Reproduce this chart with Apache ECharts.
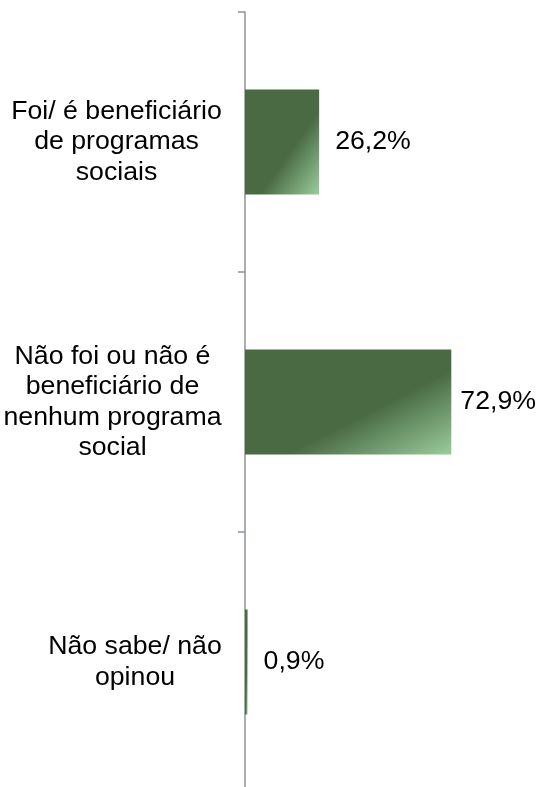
<!DOCTYPE html>
<html>
<head>
<meta charset="utf-8">
<style>
  html, body { margin: 0; padding: 0; background: #fff; }
  #chart { width: 536px; height: 787px; }
</style>
<script src="https://cdn.jsdelivr.net/npm/echarts@6/dist/echarts.min.js"></script>
</head>
<body>
<div id="chart"></div>
<script>
// data
const categories = [
  'Foi/ é beneficiário\nde programas\nsociais',
  'Não foi ou não é\nbeneficiário de\nnenhum programa\nsocial',
  'Não sabe/ não\nopinou',
];
const values = [26.2, 72.9, 0.9];

const fontFamily = "'Liberation Sans', Arial, sans-serif";
const fontSize = 26.7;
const darkGreen = '#4a6a44';
const lightGreen = '#9acd9c';
const barHeight = 105;

// each category label: lines centred inside a block that is right aligned to the axis
const measure = document.createElement('canvas').getContext('2d');
measure.font = fontSize + 'px ' + fontFamily;
const rich = {};
categories.forEach((c, i) => {
  const w = Math.max(...c.split('\n').map((l) => measure.measureText(l).width));
  rich['c' + i] = {
    width: Math.ceil(w),
    align: 'center',
    fontSize: fontSize,
    lineHeight: 30.5,
    fontFamily: fontFamily,
    color: '#000',
  };
});

// gradient that behaves like an svg bounding-box diagonal (top-left -> bottom-right)
const barGradient = (w, h) => {
  const c = (2 * w * h) / (w * w + h * h);
  return new echarts.graphic.LinearGradient(0, 0, (c * h) / w, (c * w) / h, [
    { offset: 0, color: darkGreen },
    { offset: 0.6, color: darkGreen },
    { offset: 1, color: lightGreen },
  ]);
};

const chart = echarts.init(document.getElementById('chart'));

const option = {
  animation: false,
  textStyle: { fontFamily: fontFamily },
  grid: { left: 245, right: 8, top: 12, height: 780, outerBoundsMode: 'none', containLabel: false },
  xAxis: {
    type: 'value',
    min: 0,
    max: 100,
    show: false,
  },
  yAxis: {
    type: 'category',
    inverse: true,
    data: categories,
    axisLine: { lineStyle: { color: '#8c939c', width: 1.5 } },
    axisTick: { show: true, length: 7, lineStyle: { color: '#8c939c', width: 1.5 } },
    axisLabel: {
      margin: 23,
      rich: rich,
      formatter: (value, index) =>
        value.split('\n').map((l) => '{c' + index + '|' + l + '}').join('\n'),
    },
  },
  series: [
    {
      type: 'bar',
      barWidth: barHeight,
      data: values.map((v, i) => ({
        value: v,
        // the widest bar's label sits closer so it stays inside the picture
        label: i === 1 ? { distance: 9 } : undefined,
      })),
      itemStyle: { color: darkGreen },
      label: {
        show: true,
        position: 'right',
        distance: 16,
        fontSize: fontSize,
        color: '#000',
        fontFamily: fontFamily,
        formatter: (p) => p.value.toFixed(1).replace('.', ',') + '%',
      },
    },
  ],
};

chart.setOption(option);

// now the bar sizes are known: give every bar its own gradient
const x0 = chart.convertToPixel({ gridIndex: 0 }, [0, 0])[0];
chart.setOption({
  series: [
    {
      data: values.map((v, i) => {
        const w = Math.max(1, chart.convertToPixel({ gridIndex: 0 }, [v, 0])[0] - x0);
        return {
          value: v,
          label: i === 1 ? { distance: 9 } : undefined,
          itemStyle: { color: barGradient(w, barHeight) },
        };
      }),
    },
  ],
});
</script>
</body>
</html>
